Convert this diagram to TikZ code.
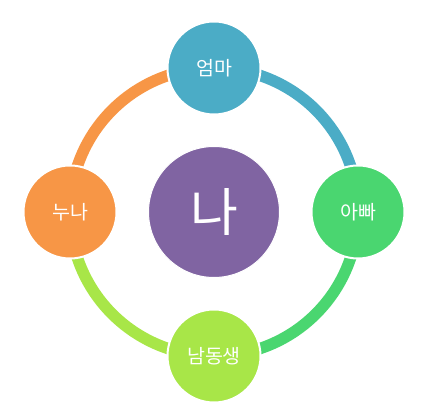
\documentclass[tikz,border=0pt]{standalone}
\usepackage{fontspec}
\setmainfont{Noto Sans CJK KR}
\definecolor{momcol}{RGB}{75,172,198}
\definecolor{dadcol}{RGB}{74,214,112}
\definecolor{brocol}{RGB}{168,230,72}
\definecolor{siscol}{RGB}{247,150,70}
\definecolor{mecol}{RGB}{128,100,162}
\begin{document}
\begin{tikzpicture}[x=1pt,y=1pt,
    member/.style={circle,draw=white,line width=2pt,minimum size=93pt,inner sep=0pt,text=white,font=\fontsize{19.5}{22}\selectfont},
    ring/.style={line width=11.5pt}]
        \useasboundingbox (0,0) rectangle (428,417);
        \draw (214,205) coordinate(mid);
        \draw (214,349) coordinate(m0);
        \draw (358,205) coordinate(d0);
        \draw (214,61) coordinate(b0);
        \draw (70,205) coordinate(s0);
        % ring, one quarter per member
        \draw[ring,momcol] (m0) to[out=0,in=90] (d0);
        \draw[ring,dadcol] (d0) to[out=-90,in=0] (b0);
        \draw[ring,brocol] (b0) to[out=180,in=-90] (s0);
        \draw[ring,siscol] (s0) to[out=90,in=180] (m0);
        \draw (m0) node[member,fill=momcol](mom){엄마};
        \draw (d0) node[member,fill=dadcol](dad){아빠};
        \draw (b0) node[member,fill=brocol](bro){남동생};
        \draw (s0) node[member,fill=siscol](sis){누나};
        \draw (mid) node[circle,fill=mecol,draw=white,line width=1pt,minimum size=131pt,text=white,font=\fontsize{52}{58}\selectfont](me){나};
      \end{tikzpicture}
\end{document}
